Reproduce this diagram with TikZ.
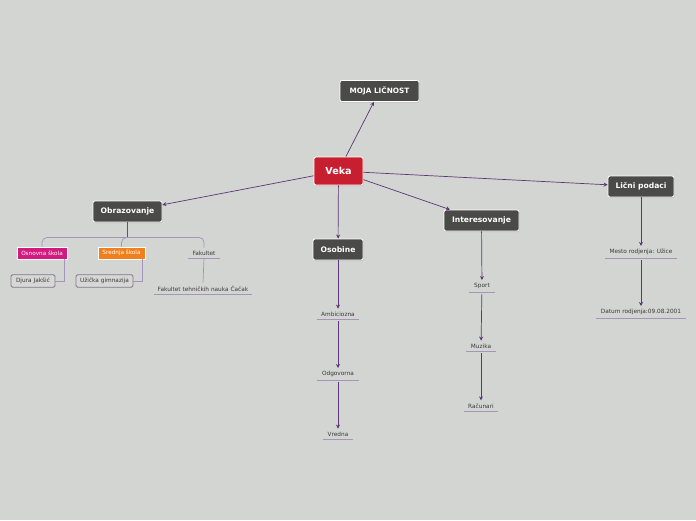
\documentclass[tikz,border=0pt]{standalone}
\usepackage{fontspec}
\setmainfont{DejaVu Sans}
\usetikzlibrary{shadows,arrows.meta}
\definecolor{fondoG}{HTML}{D3D5D2}
\definecolor{grisN}{HTML}{4A4A48}
\definecolor{rojoV}{HTML}{C81F30}
\definecolor{rosaO}{HTML}{D21B7E}
\definecolor{naranjaS}{HTML}{F07F1C}
\definecolor{moradoL}{HTML}{5C3677}
\definecolor{lilaS}{HTML}{A894B9}
\definecolor{textoG}{HTML}{3A3A3A}

\tikzset{
  tema/.style={fill=grisN,draw=white,line width=0.8pt,rounded corners=2pt,text=white,
    font=\bfseries\fontsize{7.6}{8}\selectfont,minimum height=21pt,inner xsep=4pt,
    drop shadow={opacity=0.25,shadow xshift=0.6pt,shadow yshift=-1pt}},
  escuela/.style={draw=white,line width=0.4pt,text=white,font=\fontsize{5.7}{6}\selectfont,
    minimum height=12pt,inner xsep=2pt},
  caja/.style={fill=fondoG!92!white,draw=lilaS!60!grisN,line width=0.8pt,rounded corners=1.5pt,
    text=textoG,font=\fontsize{5.8}{6}\selectfont,minimum height=12pt,inner xsep=3pt},
  hoja/.style={text=textoG,font=\fontsize{5.8}{6}\selectfont,inner xsep=3pt,inner ysep=3pt},
  flecha/.style={moradoL,line width=0.7pt,-{Stealth[length=4pt,width=4pt]}},
  rama/.style={lilaS,line width=0.7pt},
  subrama/.style={lilaS,line width=1pt}
}

\begin{document}
\begin{tikzpicture}[x=1pt,y=-1pt]
  \path[use as bounding box,fill=fondoG] (0,0) rectangle (696,520);
  % centro y temas
  \node[tema,minimum width=79pt,font=\bfseries\fontsize{7.3}{8}\selectfont] (moja) at (379.5,91) {MOJA LIČNOST};
  \node[tema,fill=rojoV,minimum width=49pt,minimum height=28pt,font=\bfseries\fontsize{9.6}{10}\selectfont] (veka) at (338.5,171) {Veka};
  \node[tema,minimum width=69pt] (obr) at (127.5,211.5) {Obrazovanje};
  \node[tema,minimum width=50pt] (oso) at (338,249.5) {Osobine};
  \node[tema,minimum width=75pt] (inte) at (481.5,220.5) {Interesovanje};
  \node[tema,minimum width=66pt] (licni) at (641,186.5) {Lični podaci};
  % obrazovanje
  \node[escuela,fill=rosaO,minimum width=50pt] (osn) at (42,253) {Osnovna škola};
  \node[escuela,fill=naranjaS,minimum width=47pt] (sred) at (121.5,253) {Srednja škola};
  \node[hoja,minimum width=32pt] (fak) at (204,253) {Fakultet};
  \node[caja,minimum width=44pt] (djura) at (33,281) {Djura Jakšić};
  \node[caja,minimum width=57pt] (uzg) at (104.5,281) {Užička gimnazija};
  \node[hoja,minimum width=98pt] (ftn) at (203,288.5) {Fakultet tehničkih nauka Čačak};
  % osobine
  \node[hoja,minimum width=41pt] (amb) at (338,314) {Ambiciozna};
  \node[hoja,minimum width=41pt] (odg) at (338,374) {Odgovorna};
  \node[hoja,minimum width=30pt] (vre) at (338,434) {Vredna};
  % interesovanje
  \node[hoja,minimum width=25pt] (spo) at (482,286) {Sport};
  \node[hoja,minimum width=29pt] (muz) at (481,346) {Muzika};
  \node[hoja,minimum width=34pt] (rac) at (481,406) {Računari};
  % licni podaci
  \node[hoja,minimum width=72pt] (mes) at (641,252) {Mesto rodjenja: Užice};
  \node[hoja,minimum width=90pt] (dat) at (641,312) {Datum rodjenja:09.08.2001};
  \foreach \h in {fak,ftn,amb,odg,vre,spo,muz,rac,mes,dat}
    \draw[rama,line width=0.8pt] (\h.south west) -- (\h.south east);

  % veka
  \draw[flecha] (veka) -- (moja);
  \draw[flecha] (veka) -- (obr);
  \draw[flecha] (veka) -- (oso);
  \draw[flecha] (veka) -- (inte);
  \draw[flecha] (veka) -- (licni);
  % rama de obrazovanje
  \coordinate (nudo) at (127.5,237.5);
  \draw[moradoL!80!lilaS,line width=1pt] (obr.south) -- (nudo);
  \draw[rama,rounded corners=5pt] (osn.north) |- (nudo);
  \draw[rama,rounded corners=5pt] (fak.north) |- (nudo);
  \draw[rama,rounded corners=5pt] (sred.north) |- (nudo);
  \draw[subrama] ([xshift=-3pt]osn.south east) |- (djura.east);
  \draw[subrama] ([xshift=-3pt]sred.south east) |- (uzg.east);
  \draw[rama] (fak.south) -- (ftn.north);
  % cadenas
  \draw[flecha] (oso) -- (amb);
  \draw[flecha,shorten <=2pt] (amb) -- (odg);
  \draw[flecha,shorten <=2pt] (odg) -- (vre);
  \draw[flecha] (inte) -- (spo);
  \draw[flecha,shorten <=2pt] (spo) -- (muz);
  \draw[flecha,shorten <=2pt] (muz) -- (rac);
  \draw[flecha] (licni) -- (mes);
  \draw[flecha,shorten <=2pt] (mes) -- (dat);
\end{tikzpicture}
\end{document}
